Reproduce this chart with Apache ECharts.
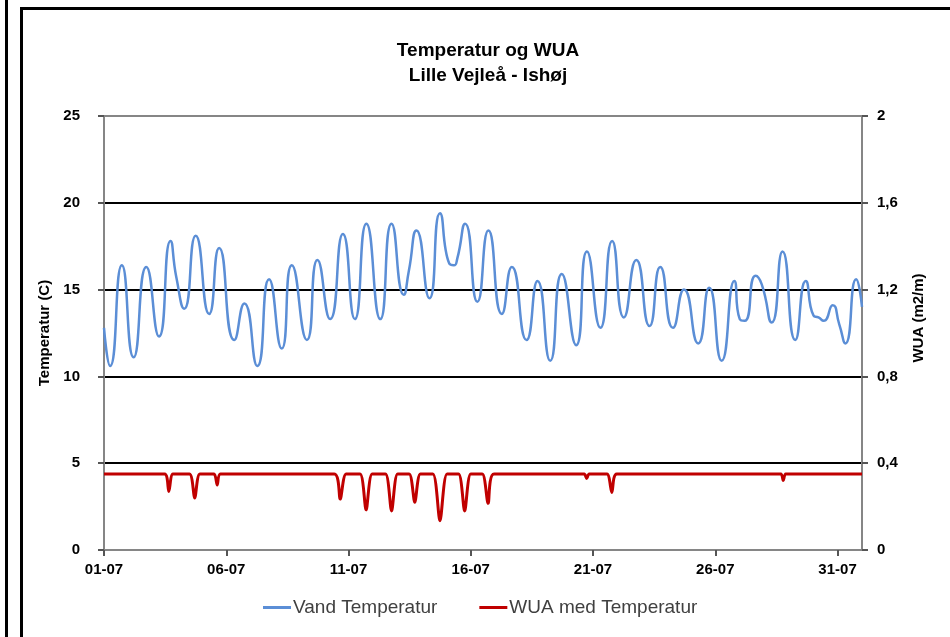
<!DOCTYPE html>
<html>
<head>
<meta charset="utf-8">
<script src="https://cdn.jsdelivr.net/npm/echarts@6/dist/echarts.min.js"></script>
<style>
  html, body { margin: 0; padding: 0; background: #fff; }
  #chart { width: 950px; height: 637px; }
</style>
</head>
<body>
<div id="chart"></div>
<script>
// x values are days since 01-07 00:00
const xTickLabels = ['01-07', '06-07', '11-07', '16-07', '21-07', '26-07', '31-07'];

const tempDays = [0, 0.25, 0.73, 1.21, 1.73, 2.25, 2.72, 2.96, 3.28, 3.75, 4.3, 4.71, 5.33, 5.74,
  6.27, 6.75, 7.27, 7.68, 8.3, 8.73, 9.25, 9.77, 10.26, 10.73, 11.3, 11.76, 12.26, 12.47, 12.78,
  13.31, 13.74, 14.12, 14.31, 14.45, 14.77, 15.27, 15.72, 16.27, 16.68, 17.28, 17.73, 18.25, 18.72,
  19.31, 19.75, 20.3, 20.78, 21.26, 21.77, 22.31, 22.75, 23.27, 23.72, 24.3, 24.75, 25.26, 25.78,
  26.0, 26.2, 26.65, 26.9, 27.31, 27.75, 28.27, 28.7, 29.02, 29.22, 29.43, 29.8, 30.07, 30.32,
  30.76, 31];
const tempValues = [12.8, 10.6, 16.4, 11.1, 16.3, 12.3, 17.8, 15.7, 13.9, 18.1, 13.6, 17.4, 12.1, 14.2,
  10.6, 15.6, 11.6, 16.4, 12.1, 16.7, 13.3, 18.2, 13.3, 18.8, 13.3, 18.8, 14.7, 16.1, 18.4,
  14.5, 19.4, 16.5, 16.4, 16.8, 18.8, 14.3, 18.4, 13.6, 16.3, 12.1, 15.5, 10.9, 15.9,
  11.8, 17.2, 12.8, 17.8, 13.4, 16.7, 12.9, 16.3, 12.8, 15.0, 11.9, 15.1, 10.9, 15.5,
  13.3, 13.2, 15.8, 15.3, 13.1, 17.2, 12.1, 15.5, 13.5, 13.4, 13.2, 14.1, 13.0, 11.9,
  15.6, 14.0];

const wuaDays = [0, 2.48, 2.65, 2.82, 3.5, 3.71, 3.92, 4.5, 4.63, 4.76,
  9.42, 9.66, 9.9, 10.47, 10.72, 10.97, 11.51, 11.76, 12.01, 12.48, 12.71, 12.94,
  13.45, 13.74, 14.03, 14.5, 14.75, 15.0, 15.47, 15.71, 15.95,
  19.64, 19.74, 19.84, 20.57, 20.77, 20.97, 27.68, 27.78, 27.88, 31];
const wuaValues = [0.35, 0.35, 0.27, 0.35, 0.35, 0.24, 0.35, 0.35, 0.30, 0.35,
  0.35, 0.235, 0.35, 0.35, 0.185, 0.35, 0.35, 0.18, 0.35, 0.35, 0.22, 0.35,
  0.35, 0.135, 0.35, 0.35, 0.18, 0.35, 0.35, 0.215, 0.35,
  0.35, 0.33, 0.35, 0.35, 0.265, 0.35, 0.35, 0.32, 0.35, 0.35];

const zip = (xs, ys) => xs.map((x, i) => [x, ys[i]]);

const chart = echarts.init(document.getElementById('chart'));
const font = 'Liberation Sans, Arial, sans-serif';
const axisGrey = '#868686';
const blue = '#5B8ED6';
const red = '#C00000';

chart.setOption({
  animation: false,
  textStyle: { fontFamily: font },
  title: {
    text: 'Temperatur og WUA\nLille Vejleå - Ishøj',
    left: 483,
    top: 33,
    textAlign: 'center',
    textStyle: { fontFamily: font, fontSize: 19, fontWeight: 'bold', color: '#000', lineHeight: 25 }
  },
  graphic: [
    { type: 'rect', shape: { x: 5, y: 0, width: 3, height: 637 }, style: { fill: '#000' } },
    { type: 'polyline', shape: { points: [[21.5, 637], [21.5, 8.5], [950, 8.5]] }, style: { stroke: '#000', lineWidth: 3, fill: null } }
  ],
  grid: { left: 104, right: 88, top: 116, bottom: 87, outerBoundsMode: 'none' },
  legend: {
    left: 263,
    top: 598,
    padding: 0,
    itemWidth: 28,
    itemHeight: 3,
    itemGap: 42,
    textStyle: { fontFamily: font, fontSize: 19, color: '#404040', padding: [0, 0, 0, -3] },
    data: [
      { name: 'Vand Temperatur', icon: 'rect', itemStyle: { color: blue } },
      { name: 'WUA med Temperatur', icon: 'rect', itemStyle: { color: red } }
    ]
  },
  xAxis: {
    type: 'value',
    min: 0,
    max: 31,
    interval: 5,
    axisLine: { lineStyle: { color: axisGrey, width: 2 } },
    axisTick: { length: 6, lineStyle: { color: '#555', width: 2 } },
    axisLabel: {
      margin: 12,
      fontSize: 15,
      fontWeight: 'bold',
      color: '#000',
      showMaxLabel: false,
      formatter: v => (v % 5 === 0 ? xTickLabels[v / 5] : '')
    },
    splitLine: { show: false }
  },
  yAxis: [
    {
      type: 'value',
      min: 0,
      max: 25,
      interval: 5,
      name: 'Temperatur (C)',
      nameLocation: 'middle',
      nameGap: 51,
      nameTextStyle: { fontSize: 15, fontWeight: 'bold', color: '#000' },
      axisLine: { show: true, lineStyle: { color: axisGrey, width: 2 } },
      axisTick: { show: true, length: 6, lineStyle: { color: '#555', width: 2 } },
      axisLabel: { margin: 24, fontSize: 15, fontWeight: 'bold', color: '#000' },
      splitLine: {
        show: true,
        lineStyle: { color: [axisGrey, '#000', '#000', '#000', '#000', axisGrey], width: 2 }
      }
    },
    {
      type: 'value',
      min: 0,
      max: 2,
      interval: 0.4,
      position: 'right',
      name: 'WUA (m2/m)',
      nameLocation: 'middle',
      nameGap: 49,
      nameTextStyle: { fontSize: 15, fontWeight: 'bold', color: '#000', padding: [0, 0, 0, 30] },
      axisLine: { show: true, lineStyle: { color: axisGrey, width: 2 } },
      axisTick: { show: true, length: 6, lineStyle: { color: '#555', width: 2 } },
      axisLabel: {
        margin: 15,
        fontSize: 15,
        fontWeight: 'bold',
        color: '#000',
        formatter: v => String(Math.round(v * 10) / 10).replace('.', ',')
      },
      splitLine: { show: false }
    }
  ],
  series: [
    {
      name: 'Vand Temperatur',
      type: 'line',
      yAxisIndex: 0,
      data: zip(tempDays, tempValues),
      smooth: 0.6,
      symbol: 'none',
      lineStyle: { color: blue, width: 2.5 },
      itemStyle: { color: blue }
    },
    {
      name: 'WUA med Temperatur',
      type: 'line',
      yAxisIndex: 1,
      data: zip(wuaDays, wuaValues),
      smooth: 0.25,
      symbol: 'none',
      lineStyle: { color: red, width: 3 },
      itemStyle: { color: red }
    }
  ]
});
</script>
</body>
</html>
